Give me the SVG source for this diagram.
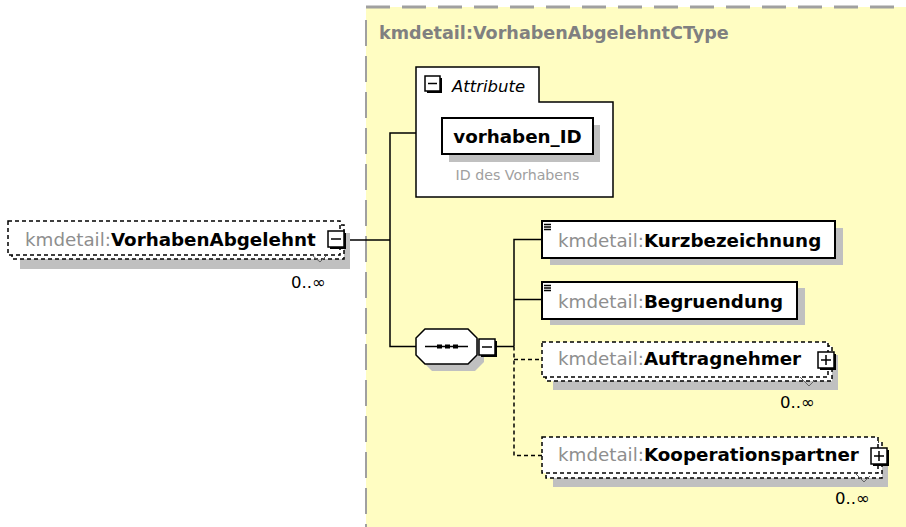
<svg xmlns="http://www.w3.org/2000/svg" width="906" height="527" viewBox="0 0 906 527">
  <style>
    .t { font-family: "DejaVu Sans", "Liberation Sans", sans-serif; font-size: 18.3px; }
    .ns { fill: #8e8e8e; font-weight: normal; }
    .nm { fill: #000; font-weight: bold; }
    .occ { font-family: "DejaVu Sans", "Liberation Sans", sans-serif; font-size: 16.5px; fill: #000; }
    .shadow { fill: #c0c0c0; }
    .box { fill: #fff; stroke: #000; stroke-width: 2; }
    .dbox { fill: #fff; stroke: #000; stroke-width: 1.5; stroke-dasharray: 4 3; }
    .btn { fill: #fff; stroke: #000; stroke-width: 1.5; }
    .btnsh { fill: #000; }
    .sym { stroke: #000; stroke-width: 1.5; fill: none; }
    .wire { stroke: #000; stroke-width: 1.5; fill: none; }
    .wire-opt { stroke: #000; stroke-width: 1.5; fill: none; stroke-dasharray: 4 3; }
    .notch { stroke: #666; stroke-width: 1; fill: none; }
  </style>

  <!-- complex type area -->
  <g id="ctype">
    <rect x="366" y="7" width="560" height="540" fill="#fffdc2"/>
    <line x1="366" y1="7" x2="906" y2="7" stroke="#a0a0a0" stroke-width="3" stroke-dasharray="24 12"/>
    <line x1="366" y1="20" x2="366" y2="527" stroke="#a0a0a0" stroke-width="2" stroke-dasharray="26 10"/>
    <text x="379" y="39" font-family="DejaVu Sans, Liberation Sans, sans-serif" font-size="17.6px" font-weight="bold" fill="#808080">kmdetail:VorhabenAbgelehntCType</text>
  </g>

  <!-- connectors -->
  <g id="connectors">
    <polyline class="wire" points="346,240 390,240"/>
    <polyline class="wire" points="416,133 390,133 390,346.5 416,346.5"/>
    <polyline class="wire" points="497,346.5 514,346.5"/>
    <polyline class="wire" points="542,239.5 514,239.5 514,346.5"/>
    <polyline class="wire" points="514,299.5 542,299.5"/>
    <polyline class="wire-opt" points="514,346.5 514,455.5 542,455.5"/>
    <polyline class="wire-opt" points="514,359.5 542,359.5"/>
  </g>

  <!-- root element -->
  <g id="root">
    <rect class="shadow" x="20" y="233" width="330" height="36"/>
    <rect class="dbox" x="12" y="225" width="332" height="34"/>
    <rect class="dbox" x="8" y="221" width="332" height="34"/>
    <polyline class="notch" points="312,255 320,262 326,256"/>
    <text class="t" x="25" y="246"><tspan class="ns">kmdetail:</tspan><tspan class="nm">VorhabenAbgelehnt</tspan></text>
    <rect class="btnsh" x="330" y="233" width="16" height="16"/>
    <rect class="btn" x="328" y="231" width="16" height="16"/>
    <line class="sym" x1="331" y1="239" x2="341" y2="239"/>
    <text class="occ" x="291" y="288">0..∞</text>
  </g>

  <!-- attribute group -->
  <g id="attributes">
    <path d="M416,67 H539 V102 H613 V197 H416 Z" fill="#fff" stroke="#000" stroke-width="1.5"/>
    <rect class="btnsh" x="427" y="78" width="15" height="15"/>
    <rect class="btn" x="425" y="76" width="15" height="15"/>
    <line class="sym" x1="428" y1="83.5" x2="437" y2="83.5"/>
    <text x="452" y="92" font-family="DejaVu Sans, Liberation Sans, sans-serif" font-size="16.5px" font-style="italic" fill="#000">Attribute</text>
  </g>

  <g id="vorhaben_ID">
    <rect class="shadow" x="449" y="125" width="151" height="37"/>
    <rect class="box" x="442" y="118" width="151" height="36"/>
    <text class="t nm" x="517.5" y="143" text-anchor="middle">vorhaben_ID</text>
    <text x="517.5" y="180" text-anchor="middle" font-family="DejaVu Sans, Liberation Sans, sans-serif" font-size="14.2px" fill="#a0a0a0">ID des Vorhabens</text>
  </g>

  <!-- sequence compositor -->
  <g id="sequence">
    <polygon class="shadow" points="432,336 475,336 484,345 484,362 475,371 432,371 423,362 423,345"/>
    <polygon points="425,329 468,329 477,338 477,355 468,364 425,364 416,355 416,338" fill="#fff" stroke="#000" stroke-width="1.5"/>
    <line class="sym" x1="425" y1="346.5" x2="468" y2="346.5"/>
    <rect x="437" y="344.5" width="5" height="4" fill="#000"/>
    <rect x="445" y="344.5" width="5" height="4" fill="#000"/>
    <rect x="453" y="344.5" width="5" height="4" fill="#000"/>
    <rect class="btnsh" x="481" y="341" width="16" height="16"/>
    <rect class="btn" x="479" y="339" width="16" height="16"/>
    <line class="sym" x1="482" y1="347" x2="492" y2="347"/>
  </g>

  <!-- child elements -->
  <g id="Kurzbezeichnung">
    <rect class="shadow" x="550" y="228" width="293" height="37"/>
    <rect class="box" x="542" y="221" width="293" height="37"/>
    <path class="sym" d="M544,224.5 H551 M544,227 H551 M544,229.5 H551" stroke-width="1"/>
    <text class="t" x="558" y="247"><tspan class="ns">kmdetail:</tspan><tspan class="nm">Kurzbezeichnung</tspan></text>
  </g>

  <g id="Begruendung">
    <rect class="shadow" x="550" y="288" width="255" height="37"/>
    <rect class="box" x="542" y="282" width="255" height="37"/>
    <path class="sym" d="M544,285.5 H551 M544,288 H551 M544,290.5 H551" stroke-width="1"/>
    <text class="t" x="558" y="308"><tspan class="ns">kmdetail:</tspan><tspan class="nm">Begruendung</tspan></text>
  </g>

  <g id="Auftragnehmer">
    <rect class="shadow" x="553" y="355" width="285" height="35"/>
    <rect class="dbox" x="546" y="346" width="286" height="35"/>
    <rect class="dbox" x="542" y="342" width="286" height="35"/>
    <polyline class="notch" points="800,377 809,386 815,380"/>
    <text class="t" x="558" y="365"><tspan class="ns">kmdetail:</tspan><tspan class="nm">Auftragnehmer</tspan></text>
    <rect class="btnsh" x="820" y="354" width="16" height="16"/>
    <rect class="btn" x="818" y="352" width="16" height="16"/>
    <path class="sym" d="M821,360 H831 M826,355 V365"/>
    <text class="occ" x="780" y="408">0..∞</text>
  </g>

  <g id="Kooperationspartner">
    <rect class="shadow" x="553" y="451" width="335" height="36"/>
    <rect class="dbox" x="546" y="442" width="336" height="36"/>
    <rect class="dbox" x="542" y="437" width="336" height="36"/>
    <polyline class="notch" points="855,473 864,482 870,476"/>
    <text class="t" x="558" y="461"><tspan class="ns">kmdetail:</tspan><tspan class="nm">Kooperationspartner</tspan></text>
    <rect class="btnsh" x="873" y="450" width="16" height="16"/>
    <rect class="btn" x="871" y="448" width="16" height="16"/>
    <path class="sym" d="M874,456 H884 M879,451 V461"/>
    <text class="occ" x="835" y="504">0..∞</text>
  </g>
</svg>
